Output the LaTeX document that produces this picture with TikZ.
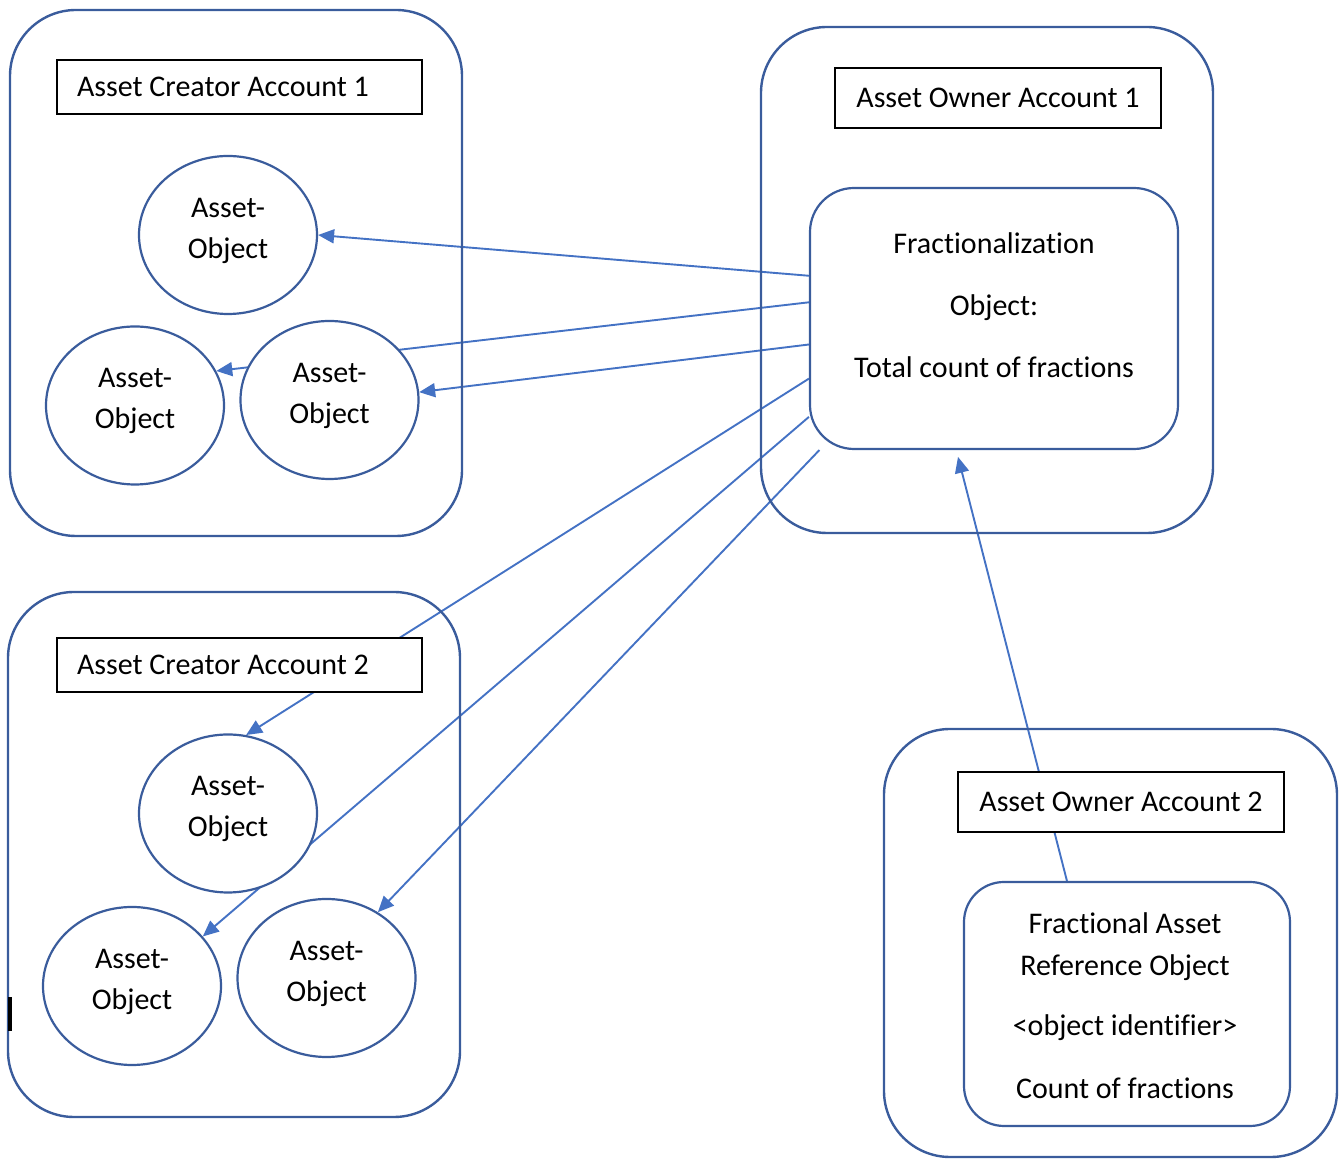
\documentclass[tikz,border=0pt]{standalone}
\usepackage{fontspec}
\setmainfont{Carlito}[Ligatures={NoCommon}]
\usetikzlibrary{shapes.geometric,arrows.meta,backgrounds}
\definecolor{shapeblue}{HTML}{3A5C9C}
\definecolor{linkblue}{HTML}{4472C4}
\tikzset{
 account/.style={draw=shapeblue, line width=1.2pt, rounded corners=33pt, minimum width=226pt, inner sep=0},
 titlebox/.style={draw=black, line width=1.2pt, fill=white, inner sep=0, font=\fontsize{15}{18}\selectfont},
 creatortitle/.style={titlebox, minimum height=27pt, inner xsep=10pt},
 ownertitle/.style={titlebox, minimum height=30pt, minimum width=163pt},
 assetobj/.style={ellipse, draw=shapeblue, line width=1.1pt, fill=white, minimum width=89pt, minimum height=79pt, inner sep=0, align=center, text depth=7pt, font=\fontsize{15}{20.5}\selectfont},
 objbox/.style={draw=shapeblue, line width=1.1pt, fill=white, rounded corners=22pt, inner sep=0},
 boxtext/.style={align=center, inner sep=0},
 link/.style={draw=linkblue, line width=0.95pt, -{Triangle[length=8pt,width=7pt]}},
}
\begin{document}
\begin{tikzpicture}[x=0.5pt,y=-0.5pt]
\useasboundingbox (0,0) rectangle (1341,1159);

% account containers
\node[account, minimum height=263pt] (c1) at (236,273) {};
\node[account, minimum height=253pt] (o1) at (987,280) {};
\node[account, minimum height=262.5pt] (c2) at (234,854.5) {};
\node[account, minimum width=226.5pt, minimum height=214pt] (o2) at (1110.5,943) {};

% titles
\node[creatortitle] (t1) at (239.5,87) {\makebox[162.5pt][l]{Asset Creator Account 1}};
\node[creatortitle] (t2) at (239.5,665) {\makebox[162.5pt][l]{Asset Creator Account 2}};
\node[ownertitle] (t3) at (998,98) {Asset Owner Account 1};
\node[ownertitle] (t4) at (1121,802) {Asset Owner Account 2};

% asset objects
\node[assetobj] (A1) at (228,235) {Asset-\\Object};
\node[assetobj] (A2) at (135,405.5) {Asset-\\Object};
\node[assetobj] (A3) at (329.5,400) {Asset-\\Object};
\node[assetobj] (B1) at (228,813.5) {Asset-\\Object};
\node[assetobj] (B2) at (132,986) {Asset-\\Object};
\node[assetobj] (B3) at (326.5,978) {Asset-\\Object};

% fractionalization object
\node[objbox, minimum width=184pt, minimum height=130.5pt] (frac) at (994,318.5) {};
\node[boxtext, font=\fontsize{15}{31}\selectfont] (fractext) at (994,305.5)
  {Fractionalization\\Object:\\Total count of fractions};

% fractional asset reference object
\node[objbox, rounded corners=20pt, minimum width=163pt, minimum height=122pt] (ref) at (1127,1004) {};
\node[boxtext, font=\fontsize{15}{21}\selectfont] (reftext) at (1125,1006)
  {Fractional Asset\\Reference Object\\[9pt]{<}object identifier{>}\\[10.5pt]Count of fractions};

% stray mark
\fill[black] (8,997) rectangle (12,1031);

\begin{pgfonlayer}{background}
\draw[link] (frac.167.6) -- (A1.0);
\draw[link] (frac.175.5) -- (A2.23.6);
\draw[link] (frac.188.2) -- (A3.5);
\draw[link] (frac.198.8) -- (B1.77.4);
\draw[link] (frac.208.6) -- (B2.35.2);
\draw[link] (frac.217.5) -- (B3.52.9);
\draw[link, shorten >=3.5pt] (ref.116.9) -- (frac.254.6);
\end{pgfonlayer}
\end{tikzpicture}
\end{document}
